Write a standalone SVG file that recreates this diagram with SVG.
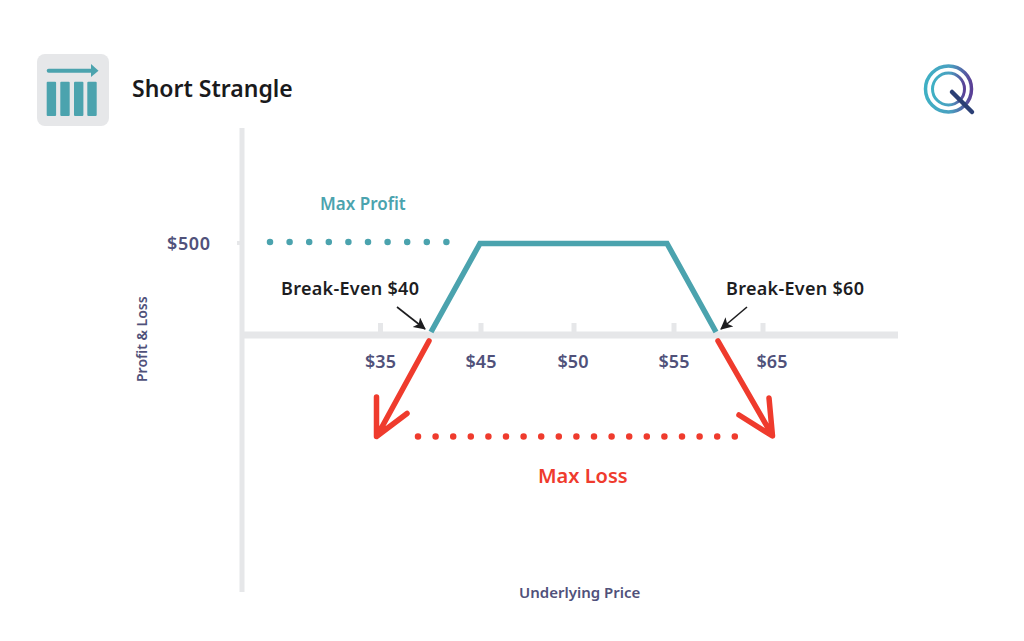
<svg xmlns="http://www.w3.org/2000/svg" width="1024" height="641" viewBox="0 0 1024 641">
<defs>
<linearGradient id="qg" x1="0" y1="0" x2="1" y2="0"><stop offset="0" stop-color="#3fb0c4"/><stop offset="0.55" stop-color="#4a9fc0"/><stop offset="1" stop-color="#5a3f96"/></linearGradient>
<marker id="ah" markerUnits="userSpaceOnUse" markerWidth="14" markerHeight="14" refX="11" refY="6" orient="auto"><path d="M0 0L12 6L0 12L3 6Z" fill="#1d1d1f"/></marker>
</defs>
<style>
text{font-family:"Noto Sans","Open Sans","Liberation Sans",sans-serif;font-weight:600}
.axis{fill:#e6e7e9}
.tick{font-size:18px;fill:#50517a;text-anchor:middle}
.be{font-size:18px;fill:#1d1d1f}
.teal{fill:none;stroke:#4ba3ae;stroke-width:5.500}
.red{fill:none;stroke:#ef3b2d;stroke-width:5.500;stroke-linecap:round;stroke-linejoin:round}
.dots{fill:none;stroke-width:6.500;stroke-linecap:round}
.ptr{fill:none;stroke:#1d1d1f;stroke-width:1.600}
</style>
<rect width="1024" height="641" fill="#ffffff"/>
<g id="icon">
<rect x="37" y="54" width="72" height="72" rx="8" fill="#e6e7e9"/>
<rect x="46.700" y="68.700" width="46" height="4" rx="2" fill="#4ba3ae"/>
<path d="M91 64L98.500 70.700L91 77Z" fill="#4ba3ae"/>
<rect x="46.700" y="81.700" width="9.400" height="34.300" rx="1" fill="#4ba3ae"/>
<rect x="60.300" y="81.700" width="9.400" height="34.300" rx="1" fill="#4ba3ae"/>
<rect x="74" y="81.700" width="9.400" height="34.300" rx="1" fill="#4ba3ae"/>
<rect x="87.300" y="81.700" width="9.400" height="34.300" rx="1" fill="#4ba3ae"/>
</g>
<text id="title" x="132" y="97" font-size="23" fill="#1a1a1c">Short Strangle</text>
<g id="logo" fill="none">
<circle cx="948.500" cy="89" r="23" stroke="url(#qg)" stroke-width="3.500"/>
<circle cx="948.500" cy="89" r="16" stroke="url(#qg)" stroke-width="3"/>
<path d="M952 92L972 112" stroke="#2b3f75" stroke-width="4.500" stroke-linecap="round"/>
</g>
<g id="axes">
<rect class="axis" x="239.500" y="128" width="5" height="464"/>
<rect class="axis" x="241" y="331.500" width="657" height="7"/>
<rect class="axis" x="237" y="241" width="4" height="4"/>
<rect class="axis" x="378" y="323" width="5" height="9"/>
<rect class="axis" x="478.500" y="323" width="5" height="9"/>
<rect class="axis" x="571.500" y="323" width="5" height="9"/>
<rect class="axis" x="671.500" y="323" width="5" height="9"/>
<rect class="axis" x="760.500" y="323" width="5" height="9"/>
</g>
<g id="connectors">
<path id="profit-line" class="teal" d="M431 332L480 243.500H667L716 332"/>
<path id="loss-left" class="red" d="M429 341L377 436M376.500 397L376.500 436.500L407 413.500"/>
<path id="loss-right" class="red" d="M718 341L772 435M769 398L772.500 436L739 415"/>
<path id="max-profit-dots" class="dots" stroke="#4ba3ae" stroke-dasharray="0 19.600" d="M270 242H448"/>
<path id="max-loss-dots" class="dots" stroke="#ef3b2d" stroke-dasharray="0 17.600" d="M418 436.500H736"/>
<path id="ptr-left" class="ptr" marker-end="url(#ah)" d="M397 307L425 329"/>
<path id="ptr-right" class="ptr" marker-end="url(#ah)" d="M747 307L721 329"/>
</g>
<g id="labels">
<text x="320" y="210" font-size="17" fill="#4ba3ae">Max Profit</text>
<text x="538" y="483" font-size="20" fill="#ef3b2d">Max Loss</text>
<text x="167" y="250" font-size="18" textLength="43" fill="#50517a">$500</text>
<text class="be" x="281" y="295" textLength="138">Break-Even $40</text>
<text class="be" x="726" y="295" textLength="138">Break-Even $60</text>
<text class="tick" x="380.500" y="368">$35</text>
<text class="tick" x="481" y="368">$45</text>
<text class="tick" x="573" y="368">$50</text>
<text class="tick" x="674" y="368">$55</text>
<text class="tick" x="772" y="368">$65</text>
<text x="519" y="598" font-size="15" fill="#50517a">Underlying Price</text>
<text transform="translate(147 382) rotate(-90)" font-size="14" fill="#50517a">Profit &amp; Loss</text>
</g>
</svg>
